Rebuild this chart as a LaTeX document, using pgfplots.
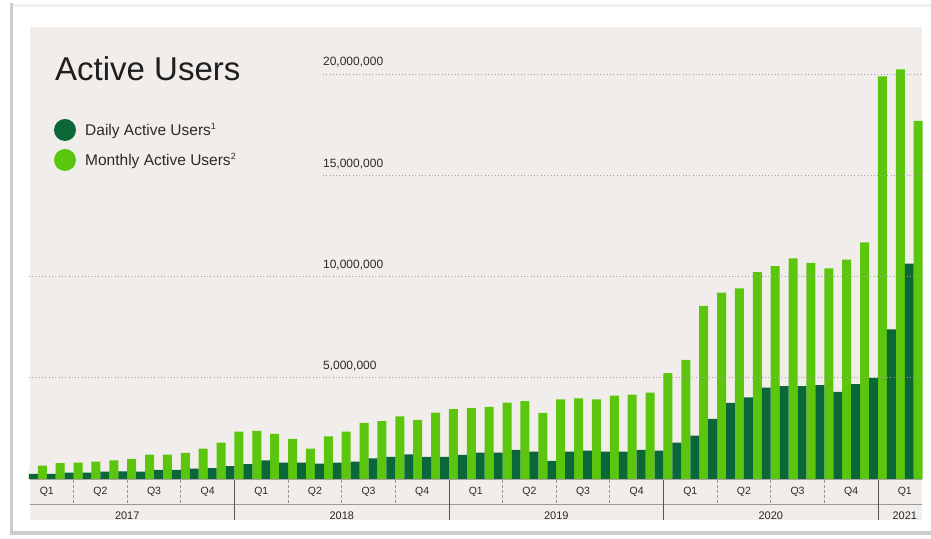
\documentclass[border=0pt]{standalone}
\usepackage{pgfplots}
\pgfplotsset{compat=1.18}
\usepackage{pgfplotstable}
\usepackage{fontspec}
\setmainfont{Liberation Sans}
\definecolor{bg}{HTML}{F1EDEA}
\definecolor{dau}{HTML}{0B6638}
\definecolor{mau}{HTML}{5CC60E}
\definecolor{txt}{HTML}{2A2A2A}
\definecolor{gridc}{HTML}{A39F9B}
\definecolor{sepc}{HTML}{555555}

% values in millions; m = month index (0 = Jan 2017)
\pgfplotstableread{
m mau dau
0 0.58 0.25
1 0.66 0.25
2 0.78 0.31
3 0.81 0.31
4 0.86 0.36
5 0.92 0.38
6 0.99 0.36
7 1.20 0.45
8 1.20 0.45
9 1.29 0.51
10 1.50 0.54
11 1.80 0.64
12 2.34 0.74
13 2.38 0.92
14 2.23 0.81
15 1.98 0.81
16 1.50 0.76
17 2.11 0.81
18 2.34 0.86
19 2.77 1.02
20 2.86 1.10
21 3.10 1.22
22 2.92 1.10
23 3.28 1.10
24 3.46 1.19
25 3.51 1.30
26 3.56 1.30
27 3.78 1.44
28 3.85 1.35
29 3.27 0.89
30 3.94 1.35
31 3.98 1.40
32 3.94 1.35
33 4.12 1.35
34 4.17 1.44
35 4.27 1.40
36 5.23 1.80
37 5.89 2.14
38 8.56 2.97
39 9.22 3.76
40 9.42 4.04
41 10.23 4.52
42 10.53 4.59
43 10.91 4.59
44 10.69 4.64
45 10.41 4.31
46 10.84 4.69
47 11.70 5.00
48 19.90 7.40
49 20.25 10.65
50 17.70 nan
}\users

\begin{document}
\begin{tikzpicture}[x=1pt,y=1pt]
\useasboundingbox (0,0) rectangle (931,538);
\fill[white] (0,0) rectangle (931,538);
\fill[gray!40] (10,3) rectangle (13,535);
\fill[gray!40] (10,3) rectangle (931,7);
\fill[gray!12] (13,531) rectangle (931,534);
\fill[bg] (30,18) rectangle (922,511);

% title and legend
\node[anchor=base west, inner sep=0, text=black!88, font=\fontsize{33}{38}\selectfont] at (55,457) {Active Users};
\fill[dau] (65,408) circle (11);
\fill[mau] (65,378) circle (11);
\node[anchor=base west, inner sep=0, text=txt, font=\fontsize{15.5}{18}\selectfont] at (85,402) {Daily Active Users\raisebox{0.45em}{\fontsize{9}{10}\selectfont 1}};
\node[anchor=base west, inner sep=0, text=txt, font=\fontsize{15.5}{18}\selectfont] at (85,372) {Monthly Active Users\raisebox{0.45em}{\fontsize{9}{10}\selectfont 2}};

\begin{axis}[at={(28.9pt,59pt)}, anchor=south west, scale only axis,
  width=893.75pt, height=445pt, xmin=0.5, xmax=50.5, ymin=0, ymax=22,
  hide axis, ybar, bar width=0.5, bar shift=0pt]
\addplot[fill=mau, draw=none] table[x expr=\thisrow{m}+0.25, y=mau]{\users};
\addplot[fill=dau, draw=none] table[x expr=\thisrow{m}+0.75, y=dau]{\users};
\draw[gridc, line width=0.9pt, dash pattern=on 0.9pt off 2.4pt] (axis cs:0.5,5) -- (axis cs:50.5,5);
\draw[gridc, line width=0.9pt, dash pattern=on 0.9pt off 2.4pt] (axis cs:0.5,10) -- (axis cs:50.5,10);
\draw[gridc, line width=0.9pt, dash pattern=on 0.9pt off 2.4pt] (axis cs:16.95,15) -- (axis cs:50.5,15);
\draw[gridc, line width=0.9pt, dash pattern=on 0.9pt off 2.4pt] (axis cs:16.95,20) -- (axis cs:50.5,20);
\node[anchor=base west, inner sep=0, yshift=8.5pt, text=txt, font=\fontsize{12}{13}\selectfont] at (axis cs:16.95,20) {20,000,000};
\node[anchor=base west, inner sep=0, yshift=8.5pt, text=txt, font=\fontsize{12}{13}\selectfont] at (axis cs:16.95,15) {15,000,000};
\node[anchor=base west, inner sep=0, yshift=8.5pt, text=txt, font=\fontsize{12}{13}\selectfont] at (axis cs:16.95,10) {10,000,000};
\node[anchor=base west, inner sep=0, yshift=8.5pt, text=txt, font=\fontsize{12}{13}\selectfont] at (axis cs:16.95,5) {5,000,000};
\end{axis}

% category rows below the bars
\draw[gray!70, line width=0.6pt] (30,59) -- (922,59);
\draw[gray!80, line width=0.8pt] (30,34) -- (922,34);
\foreach \k in {1,2,3,5,6,7,9,10,11,13,14,15} {
  \pgfmathsetmacro\xx{20+17.875*3*\k}
  \draw[gray!85, line width=0.8pt, dash pattern=on 2.5pt off 2.5pt] (\xx,58) -- (\xx,34);
}
\foreach \k in {4,8,12,16} {
  \pgfmathsetmacro\xx{20+17.875*3*\k}
  \draw[sepc, line width=0.9pt] (\xx,58) -- (\xx,18);
}
\foreach \j in {0,1,2,3} {
  \foreach \q/\lab in {0/Q1,1/Q2,2/Q3,3/Q4} {
    \pgfmathsetmacro\xx{20+17.875*(12*\j+3*\q+1.5)}
    \node[text=txt, font=\fontsize{10.5}{12}\selectfont] at (\xx,46) {\lab};
  }
}
\node[text=txt, font=\fontsize{10.5}{12}\selectfont] at ({20+17.875*49.5},46) {Q1};
\foreach \j/\yr in {0/2017,1/2018,2/2019,3/2020} {
  \pgfmathsetmacro\xx{20+17.875*(12*\j+6)}
  \node[text=txt, font=\fontsize{11}{12}\selectfont] at (\xx,22) {\yr};
}
\node[text=txt, font=\fontsize{11}{12}\selectfont] at ({20+17.875*49.5},22) {2021};
\end{tikzpicture}
\end{document}
